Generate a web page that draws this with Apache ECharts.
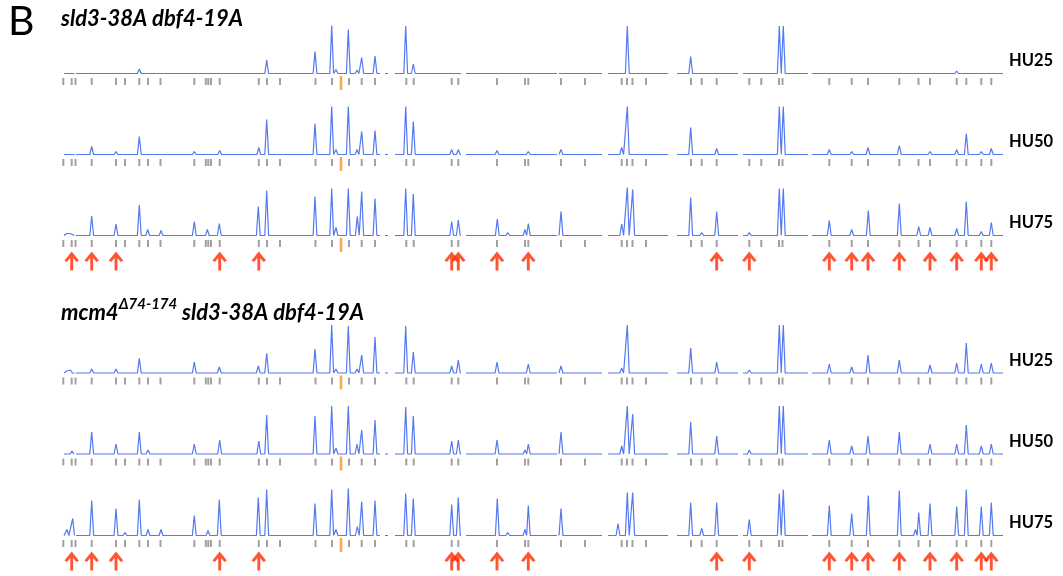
<!DOCTYPE html>
<html>
<head>
<meta charset="utf-8">
<script src="https://cdn.jsdelivr.net/npm/echarts@6/dist/echarts.min.js"></script>
<style>
  html, body { margin: 0; padding: 0; background: #ffffff; }
  #chart { width: 1063px; height: 576px; }
</style>
</head>
<body>
<div id="chart"></div>
<script>
// Genome map coordinates (map units along the concatenated chromosomes)
const segments = [[64, 74.5], [76, 380], [385, 388], [395, 461], [466, 557], [559, 602],
                  [608, 668], [677, 738], [743, 808], [812, 1003]];

// Replication origin sites (grey ticks), centromere marker, and sites flagged with arrows
const originSites = [63.3, 71.7, 75.5, 91.7, 116, 125, 139.3, 148, 160.5, 194.3, 205.8, 208.3, 211,
  219.7, 258.8, 267, 280, 315.5, 332, 349, 361.7, 375, 406.3, 413.7, 451.7, 458.3, 497, 525,
  528.3, 561, 585, 621.7, 627, 632.5, 646, 691, 701.7, 716.7, 749.3, 761.3, 779, 782.5, 829.3,
  851.7, 868, 899.3, 918.5, 930, 956.7, 966.3, 981.3, 991.3];
const centromere = 341;
const arrowSites = [71.7, 91.7, 116, 219.7, 258.8, 451.7, 458.3, 497, 528.3, 716.7, 749.3,
  829.3, 851.7, 868, 899.3, 930, 956.7, 981.3, 991.3];

// Peak apex [position, relative copy signal] for each profile
const sldDbfHU25 = [[91.7, 1], [139.3, 4.5], [194.3, 2], [266.7, 13.5], [315, 22], [331.7, 48],
  [336, 4], [348.3, 44], [357, 3.5], [361.7, 16], [375, 17.5], [405.7, 47.5], [413.3, 9.5],
  [618, 2], [627.3, 47.5], [690.7, 17], [716.7, 1], [779.3, 47.5], [783.3, 47.5], [867.7, 1],
  [899.3, 1.5], [956.7, 2.5], [991.3, 2]];
const sldDbfHU50 = [[91.7, 8], [116, 3], [139.3, 18], [194.3, 3], [219.7, 4], [258.8, 7],
  [266.7, 35], [315, 31], [331.7, 48], [336, 5], [348.3, 48], [357, 5], [361.7, 23], [375, 24],
  [405.7, 48], [413.3, 33], [451.7, 5], [458.3, 5], [497, 4], [528.3, 3], [561, 5], [621.7, 7],
  [627.3, 48], [690.7, 27], [716.7, 6], [749.3, 2], [779.3, 48], [783.3, 48], [829.3, 5],
  [851.7, 3], [868, 7], [899.3, 9], [930, 3], [956.7, 5], [966.3, 21], [981.3, 3], [991.3, 6]];
const sldDbfHU75 = [[66.7, 2], [70, 2], [91.7, 19.5], [116, 11.5], [125, 2], [139.3, 30.5],
  [147.7, 6], [161, 5], [194.3, 14], [207.3, 6], [219.3, 12], [258.3, 29], [266.7, 45], [280, 1],
  [315, 39], [331.7, 47], [336, 8], [348.3, 47], [357.3, 19], [361.7, 44], [375, 37],
  [405.7, 47], [413.3, 41.5], [451.7, 14], [458.3, 15.5], [497.3, 16.5], [507.7, 3], [525, 6],
  [528.3, 12], [561, 24], [585, 2], [621.7, 11.5], [627.3, 48], [632.7, 46], [646, 2],
  [690.7, 38], [701.7, 3], [716.7, 24], [749.3, 3], [779.3, 47], [783.3, 47], [829.3, 15],
  [851.7, 6], [868.3, 25], [899.3, 32], [918.7, 9], [930, 8], [956.7, 7], [966.3, 34],
  [981.3, 4], [991.3, 13]];
const mcmSldDbfHU25 = [[66.7, 2], [70.5, 3], [91.7, 4], [116, 4], [139.3, 14.7], [148, 2],
  [161, 2], [194.3, 11], [219.3, 6], [258.3, 7], [266.7, 19.7], [315, 24], [331.7, 48], [336, 4],
  [348.3, 47], [357, 4], [361.7, 18], [375, 36], [405.7, 47], [413.3, 21], [451.7, 7],
  [458.3, 13], [497, 11], [528.3, 9], [561, 7], [621.7, 5], [627.3, 48], [690.7, 25],
  [716.7, 11], [749.3, 3], [779.3, 48], [783.3, 48], [829.3, 9], [851.7, 6], [868, 18],
  [899.3, 13], [930, 8], [956.7, 10], [966.3, 30], [981.3, 9], [991.3, 10]];
const mcmSldDbfHU50 = [[72, 3], [91.7, 22], [116, 10], [139.3, 22], [148, 4], [194.3, 10],
  [219.7, 14], [258.8, 13], [266.7, 39], [315, 38], [331.7, 48], [336, 6], [348.3, 48], [357, 10],
  [361.7, 24], [375, 34], [405.7, 47], [413.3, 38], [451.7, 13], [458.3, 14], [497, 14], [525, 4],
  [528.3, 10], [561, 22], [621.7, 8], [627.3, 48], [632.7, 40], [690.7, 32], [716.7, 18],
  [749.3, 4], [779.3, 48], [783.3, 48], [829.3, 14], [851.7, 8], [868, 18], [899.3, 22],
  [930, 10], [956.7, 10], [966.3, 29], [981.3, 8], [991.3, 10]];
const mcmSldDbfHU75 = [[67, 6], [72.7, 17], [91.7, 35], [116, 27], [125, 3], [139.3, 36],
  [148, 6], [161, 6], [194.3, 20], [208, 5], [219.3, 36], [258.3, 38], [266.7, 46], [315, 32],
  [331.7, 46], [336, 6], [348.3, 47], [357.3, 9], [361.7, 34], [375, 35], [405.7, 42],
  [413.3, 37], [451.7, 31], [458.3, 38], [497.3, 37], [507.7, 3], [525, 6], [528.3, 30],
  [561, 27], [618, 12], [627.3, 43], [632.7, 43], [690.7, 33], [701.7, 7], [716.7, 33],
  [749.3, 16], [779.3, 42], [783.3, 46], [829.3, 30], [851.7, 22], [868.3, 40], [899.3, 45],
  [915.5, 6], [918.7, 23], [930, 32], [956.7, 29], [966.3, 46], [981.3, 29], [991.3, 33]];

const trackLabels = ['HU25', 'HU50', 'HU75', 'HU25', 'HU50', 'HU75'];
const profiles = [sldDbfHU25, sldDbfHU50, sldDbfHU75, mcmSldDbfHU25, mcmSldDbfHU50, mcmSldDbfHU75];
const showArrows = [false, false, true, false, false, true];

// ---- layout ----
const baselines = [73.5, 154.5, 235.5, 373, 454, 535.5];
const PEAK_HALF = 1.9;
const LINE_BLUE = '#5479f0';
const FONT = 'Lato';

// Turn a peak list into a polyline: flat baseline along each chromosome segment,
// a spike rising to each peak apex, and a break between segments.
function buildProfile(peaks) {
  const pts = [];
  segments.forEach(([a, b], si) => {
    const inSeg = peaks.filter(p => p[0] >= a && p[0] <= b).sort((p, q) => p[0] - q[0]);
    pts.push([a, 0]);
    inSeg.forEach((p, i) => {
      const prev = inSeg[i - 1], next = inSeg[i + 1];
      let l = p[0] - PEAK_HALF;
      if (prev) l = Math.max(l, (prev[0] + p[0]) / 2);
      l = Math.max(l, a);
      let r = p[0] + PEAK_HALF;
      if (next) r = Math.min(r, (p[0] + next[0]) / 2);
      r = Math.min(r, b);
      pts.push([l, 0], [p[0], p[1]], [r, 0]);
    });
    pts.push([b, 0]);
    if (si < segments.length - 1) pts.push([(b + segments[si + 1][0]) / 2, '-']);
  });
  return pts;
}

// Upward arrow with a broad chevron head
const ARROW = 'path://M7,0 L14,9 L11.6,10.6 L8.4,6.6 L8.4,19 L5.6,19 L5.6,6.6 L2.4,10.6 L0,9 Z';

const grid = [], xAxis = [], yAxis = [], series = [];
profiles.forEach((peaks, k) => {
  grid.push({ left: 60, right: 58, top: baselines[k] - 50, height: 86 });
  xAxis.push({ gridIndex: k, type: 'value', min: 60, max: 1005, show: false });
  yAxis.push({ gridIndex: k, type: 'value', min: -36, max: 50, show: false });
  series.push({
    type: 'line', xAxisIndex: k, yAxisIndex: k, data: buildProfile(peaks),
    symbol: 'none', silent: true, connectNulls: false,
    lineStyle: { color: LINE_BLUE, width: 1.2 }
  });
  series.push({
    type: 'scatter', xAxisIndex: k, yAxisIndex: k, silent: true,
    data: originSites.map(x => [x, -8]),
    symbol: 'rect', symbolSize: [2, 7], itemStyle: { color: '#8a8a8a' }
  });
  series.push({
    type: 'scatter', xAxisIndex: k, yAxisIndex: k, silent: true,
    data: [[centromere, -9.5]],
    symbol: 'rect', symbolSize: [2.5, 14], itemStyle: { color: '#f7941d' }
  });
  if (showArrows[k]) {
    series.push({
      type: 'scatter', xAxisIndex: k, yAxisIndex: k, silent: true,
      data: arrowSites.map(x => [x, -25.5]),
      symbol: ARROW, symbolSize: [14.5, 19], symbolKeepAspect: false,
      itemStyle: { color: '#ff2a00' }
    });
  }
});

// Panel titles and row labels are drawn through the title component
const title = [
  { text: 'B', left: 8, top: 1, padding: 0,
    textStyle: { fontFamily: FONT, fontWeight: 'normal', fontSize: 41, color: '#000' } },
  { text: 'sld3-38A dbf4-19A', left: 61, top: 8, padding: 0,
    textStyle: { fontFamily: FONT, fontStyle: 'italic', fontWeight: 'bold', fontSize: 22,
                 color: '#000' } },
  { text: '{m|mcm4}{s|Δ74-174}{m| sld3-38A dbf4-19A}', left: 61, top: 297, padding: 0,
    textStyle: {
      color: '#000',
      rich: {
        m: { fontFamily: FONT, fontStyle: 'italic', fontWeight: 'bold', fontSize: 22,
             lineHeight: 27, verticalAlign: 'bottom', color: '#000' },
        s: { fontFamily: FONT, fontStyle: 'italic', fontWeight: 'bold', fontSize: 15,
             lineHeight: 15, verticalAlign: 'top', color: '#000' }
      }
    } }
];
trackLabels.forEach((t, k) => {
  title.push({ text: t, left: 1009, top: baselines[k] - 21, padding: 0,
    textStyle: { fontFamily: FONT, fontWeight: 'bold', fontSize: 16.5, color: '#000' } });
});

const chart = echarts.init(document.getElementById('chart'), null, { renderer: 'canvas' });
chart.setOption({
  animation: false,
  backgroundColor: '#ffffff',
  title, grid, xAxis, yAxis, series
});
</script>
</body>
</html>
